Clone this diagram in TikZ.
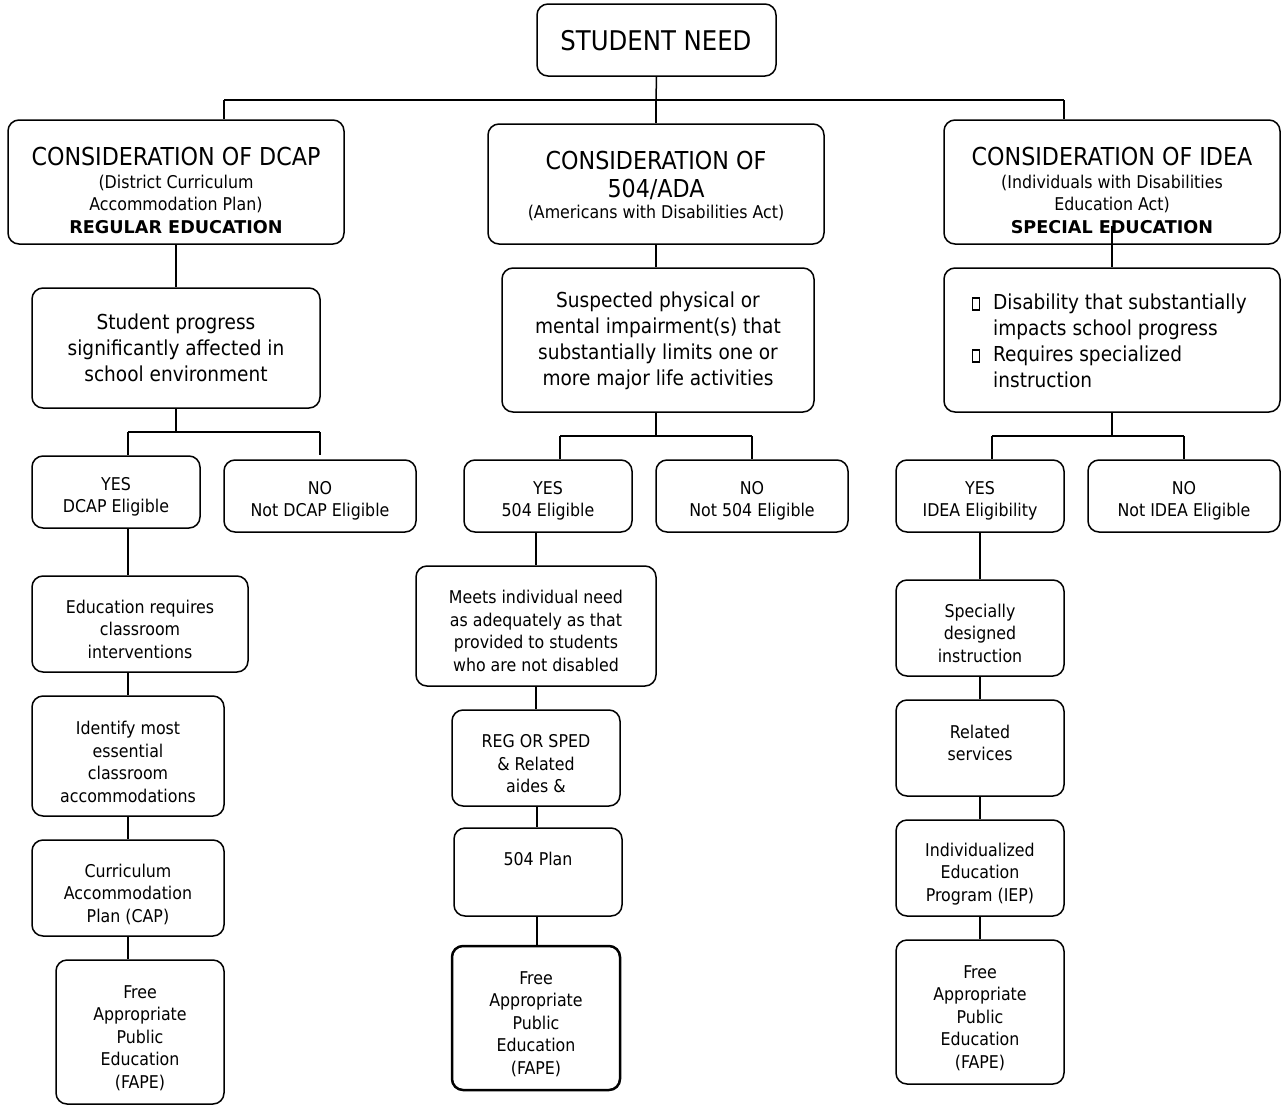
\documentclass[tikz,border=0pt]{standalone}
\usepackage{fontspec}
\setmainfont{DejaVu Sans Condensed}[BoldFont={DejaVu Sans Bold}]
\newcommand{\szsm}{\fontsize{17.6}{22.5}\selectfont}
\newcommand{\szmd}{\fontsize{20.6}{25.8}\selectfont}
\newcommand{\szti}{\fontsize{24.7}{28}\selectfont}
\newcommand{\szsn}{\fontsize{27.1}{30}\selectfont}
\tikzset{
  box/.style={draw, line width=1.5pt, rounded corners=11pt, inner sep=0pt, fill=white},
  boxthick/.style={box, line width=2.5pt},
  bulletbox/.style={draw, line width=1.1pt, inner sep=0pt, minimum width=7.5pt, minimum height=12pt},
  txt/.style={inner sep=0pt, align=center, font=\szsm},
  conn/.style={line width=1.5pt},
}
% \bx{style}{name}{x1}{y1}{x2}{y2}
\newcommand{\bx}[6]{\node[#1, minimum width={#5pt-#3pt}, minimum height={#6pt-#4pt}] (#2) at ({(#3+#5)/2},{(#4+#6)/2}) {};}
\begin{document}
\begin{tikzpicture}[x=1pt,y=-1pt]
\useasboundingbox (0,0) rectangle (1286,1106);
\fill[white] (0,0) rectangle (1286,1106);

% ---------- boxes ----------
\bx{box}{sn}{537}{4}{776}{76}
\bx{box}{dcap}{8}{120}{344}{244}
\bx{box}{cfive}{488}{124}{824}{244}
\bx{box}{idea}{944}{120}{1280}{244}
\bx{box}{prog}{32}{288}{320}{408}
\bx{box}{susp}{502}{268}{814}{412}
\bx{box}{dis}{944}{268}{1280}{412}
\bx{box}{yesd}{32}{456}{200}{528}
\bx{box}{nod}{224}{460}{416}{532}
\bx{box}{yesf}{464}{460}{632}{532}
\bx{box}{nof}{656}{460}{848}{532}
\bx{box}{yesi}{896}{460}{1064}{532}
\bx{box}{noi}{1088}{460}{1280}{532}
\bx{box}{edu}{32}{576}{248}{672}
\bx{box}{ident}{32}{696}{224}{816}
\bx{box}{cap}{32}{840}{224}{936}
\bx{box}{fapel}{56}{960}{224}{1104}
\bx{box}{meets}{416}{566}{656}{686}
\bx{box}{reg}{452}{710}{620}{806}
\bx{box}{plan}{454}{828}{622}{916}
\bx{boxthick}{fapem}{452}{946}{620}{1090}
\bx{box}{spec}{896}{580}{1064}{676}
\bx{box}{rel}{896}{700}{1064}{796}
\bx{box}{iep}{896}{820}{1064}{916}
\bx{box}{fapir}{896}{940}{1064}{1084}

% ---------- texts ----------
\node[txt, font=\szsn] (snt) at (656,41) {STUDENT NEED};

\node[txt, font=\szti] (dcapt) at (176,157) {CONSIDERATION OF DCAP};
\node[txt] (dcaps) at (176,204) {(District Curriculum\\Accommodation Plan)\\\textbf{REGULAR EDUCATION}};

\node[txt, font=\szti] (cfivet) at (656,175) {CONSIDERATION OF\\504/ADA};
\node[txt] (cfives) at (656,213) {(Americans with Disabilities Act)};

\node[txt, font=\szti] (ideat) at (1112,157) {CONSIDERATION OF IDEA};
\node[txt] (ideas) at (1112,204) {(Individuals with Disabilities\\Education Act)\\\textbf{SPECIAL EDUCATION}};

\node[txt, font=\szmd] (progt) at (176,348) {Student progress\\significantly affected in\\school environment};
\node[txt, font=\szmd] (suspt) at (658,341) {Suspected physical or\\mental impairment(s) that\\substantially limits one or\\more major life activities};
\node[txt, font=\szmd, align=left, anchor=west] (dist) at (993,341) {Disability that substantially\\impacts school progress\\Requires specialized\\instruction};
\node[bulletbox] (bula) at (976,304) {};
\node[bulletbox] (bulb) at (976,356) {};

\node[txt] (yesdt) at (116,497) {YES\\DCAP Eligible};
\node[txt] (nodt) at (320,501) {NO\\Not DCAP Eligible};
\node[txt] (yesft) at (548,501) {YES\\504 Eligible};
\node[txt] (noft) at (752,501) {NO\\Not 504 Eligible};
\node[txt] (yesit) at (980,501) {YES\\IDEA Eligibility};
\node[txt] (noit) at (1184,501) {NO\\Not IDEA Eligible};

\node[txt] (edut) at (140,629) {Education requires\\classroom\\interventions};
\node[txt] (identt) at (128,762) {Identify most\\essential\\classroom\\accommodations};
\node[txt] (capt) at (128,894) {Curriculum\\Accommodation\\Plan (CAP)};
\node[txt] (fapelt) at (140,1038) {Free\\Appropriate\\Public\\Education\\(FAPE)};

\node[txt] (meetst) at (536,631) {Meets individual need\\as adequately as that\\provided to students\\who are not disabled};
\node[txt] (regt) at (536,764) {REG OR SPED\\\& Related\\aides \&};
\node[txt] (plant) at (538,859) {504 Plan};
\node[txt] (fapemt) at (536,1024) {Free\\Appropriate\\Public\\Education\\(FAPE)};

\node[txt] (spect) at (980,633) {Specially\\designed\\instruction};
\node[txt] (relt) at (980,743) {Related\\services};
\node[txt] (iept) at (980,874) {Individualized\\Education\\Program (IEP)};
\node[txt] (fapirt) at (980,1018) {Free\\Appropriate\\Public\\Education\\(FAPE)};

% ---------- connectors ----------
\coordinate (t0) at (656,100);
\coordinate (tL) at (224,100);
\coordinate (tR) at (1064,100);
\draw[conn] (sn.south) -- (t0);
\draw[conn] (tL) -- (tR);
\draw[conn] (tL) -- (tL |- dcap.north);
\draw[conn] (t0) -- (cfive.north);
\draw[conn] (tR) -- (tR |- idea.north);

\draw[conn] (dcap.south) -- (prog.north);
\draw[conn] (cfive.south) -- (cfive.south |- susp.north);
\coordinate (iin) at (1112,226);
\draw[conn] (iin) -- (dis.north);

% DCAP branch
\coordinate (d0) at (176,432);
\coordinate (dL) at (128,432);
\coordinate (dR) at (320,432);
\coordinate (dRe) at (320,455);
\draw[conn] (prog.south) -- (d0);
\draw[conn] (dL) -- (dR);
\draw[conn] (dL) -- (dL |- yesd.north);
\draw[conn] (dR) -- (dRe);
\draw[conn] (yesd.south -| dL) -- (edu.north -| dL);
\draw[conn] (edu.south -| dL) -- (ident.north -| dL);
\draw[conn] (ident.south -| dL) -- (cap.north -| dL);
\draw[conn] (cap.south -| dL) -- (fapel.north -| dL);

% 504 branch
\coordinate (f0) at (656,436);
\coordinate (fL) at (560,436);
\coordinate (fR) at (752,436);
\coordinate (fc) at (536,436);
\coordinate (fd) at (537,436);
\draw[conn] (susp.south -| f0) -- (f0);
\draw[conn] (fL) -- (fR);
\draw[conn] (fL) -- (fL |- yesf.north);
\draw[conn] (fR) -- (fR |- nof.north);
\draw[conn] (yesf.south -| fc) -- (meets.north -| fc);
\draw[conn] (meets.south -| fc) -- (reg.north -| fc);
\draw[conn] (reg.south -| fd) -- (plan.north -| fd);
\draw[conn] (plan.south -| fd) -- (fapem.north -| fd);

% IDEA branch
\coordinate (i0) at (1112,436);
\coordinate (iL) at (992,436);
\coordinate (iR) at (1184,436);
\coordinate (ic) at (980,436);
\draw[conn] (dis.south) -- (i0);
\draw[conn] (iL) -- (iR);
\draw[conn] (iL) -- (iL |- yesi.north);
\draw[conn] (iR) -- (iR |- noi.north);
\draw[conn] (yesi.south -| ic) -- (spec.north -| ic);
\draw[conn] (spec.south -| ic) -- (rel.north -| ic);
\draw[conn] (rel.south -| ic) -- (iep.north -| ic);
\draw[conn] (iep.south -| ic) -- (fapir.north -| ic);
\end{tikzpicture}
\end{document}
